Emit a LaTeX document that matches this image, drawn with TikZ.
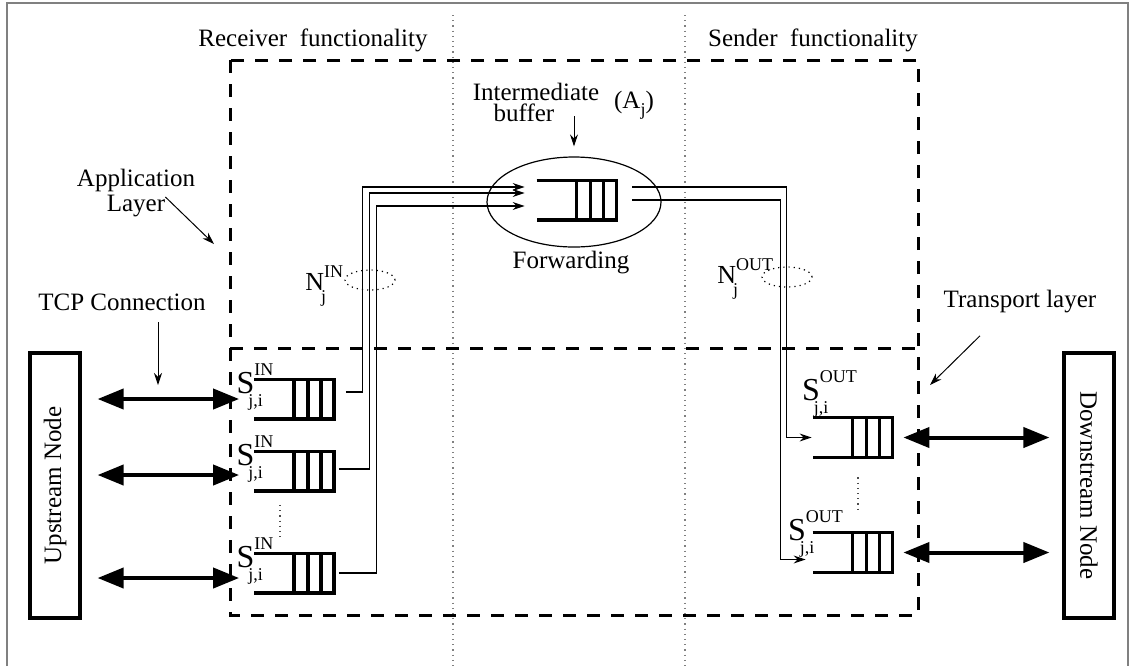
\documentclass[tikz,border=0pt]{standalone}
\usepackage{fontspec}
\setmainfont{Liberation Serif}
\usetikzlibrary{arrows.meta,shapes.geometric}

\newcommand{\fifo}[2]{%
  \node[fifobox] (#1) at (#2) {};
  \draw[fifoline] (#1.north west) -- (#1.north east) -- (#1.south east) -- (#1.south west);
  \foreach \d in {6.5,13,20}
    \draw[fifoline] ([xshift=-\d pt]#1.north east) -- ([xshift=-\d pt]#1.south east);
}
\newcommand{\idx}{\fontsize{9}{9}\selectfont}
\newcommand{\qname}[2]{{\fontsize{16}{16}\selectfont S}\rlap{\kern-3pt\raisebox{-6.5pt}{\idx #2}}\raisebox{9pt}{\idx #1}}
\newcommand{\lname}[1]{{\fontsize{13}{13}\selectfont N}\rlap{\kern-1.5pt\raisebox{-6pt}{\idx j}}\raisebox{6.5pt}{\idx #1}}

\begin{document}
\begin{tikzpicture}[x=0.5pt, y=-0.5pt, >={Stealth[length=6pt,width=4pt]},
    lbl/.style={font=\fontsize{12.5}{12.5}\selectfont, inner sep=0pt},
    fifobox/.style={minimum width=39.5pt, minimum height=19.5pt, inner sep=0pt},
    fifoline/.style={line width=1.6pt},
    area/.style={line width=1.5pt, dash pattern=on 6.5pt off 5.5pt},
    sep/.style={dotted, gray, line width=0.6pt},
    dots/.style={dotted, black!70, line width=0.6pt},
    frame/.style={gray, line width=1pt},
    link/.style={->, line width=0.6pt},
    ptr/.style={->, line width=0.5pt},
    bidir/.style={line width=2pt, {Triangle[length=13pt,width=10pt]}-{Triangle[length=13pt,width=10pt]}},
    peer/.style={draw, line width=1.6pt, minimum width=25pt, minimum height=132.5pt, inner sep=0pt, font=\fontsize{12.5}{12.5}\selectfont},
    lane/.style={draw, dotted, ellipse, line width=0.6pt, minimum width=25pt, minimum height=10pt, inner sep=0pt}]
\useasboundingbox (0,0) rectangle (1135,666);
\draw[frame] (7,666) -- (7,3) -- (1128,3) -- (1128,666);
\draw[sep] (453,15) -- (453,666);
\draw[sep] (685,15) -- (685,666);
\draw[area] (230,60) rectangle (918,615);
\draw[area] (230,348) -- (918,348);

\node[lbl] (recv) at (313,40) {Receiver~ functionality};
\node[lbl] (send) at (813,40) {Sender~ functionality};

\node[lbl] (inter) at (536,92) {Intermediate};
\node[lbl] (buf) at (524,113) {buffer};
\node[lbl] (aj) at (634,105) {(A\raisebox{-3.5pt}{\idx j})};
\node[draw, ellipse, line width=0.6pt, minimum width=87pt, minimum height=45pt, inner sep=0pt] (fwd) at (574,202) {};
\fifo{mid}{576.5,200}
\node[lbl] (fwdlbl) at (571,263) {Forwarding};
\draw[ptr] ([yshift=20pt]fwd.north) -- ([yshift=5pt]fwd.north);

\node[lbl, align=center] (app) at (136,193) {Application\\Layer};
\coordinate (apptip) at (214,244);
\draw[ptr] ([xshift=-15pt,yshift=-2pt]app.east) -- (apptip);

\node[lbl] (tcp) at (122,302) {TCP Connection};
\coordinate (tcptip) at (158,385);
\draw[ptr] ([yshift=-5.75pt]tcp.south -| tcptip) -- (tcptip);

\node[lbl] (trans) at (1020,302) {Transport layer};
\coordinate (transtip) at (930,385);
\draw[ptr] ([xshift=-20pt,yshift=-11pt]trans.south) -- (transtip);

\node[peer] (up) at (55,485.5) {\rotatebox{90}{Upstream Node}};
\node[peer] (down) at (1089,485.5) {\rotatebox{-90}{Downstream Node}};

\fifo{in1}{294,399}
\fifo{in2}{294,471}
\fifo{in3}{294,573}
\fifo{out1}{852.5,437.5}
\fifo{out2}{852.5,552.5}

\node[lbl, anchor=base west] (sin1) at ([xshift=-9pt,yshift=3pt]in1.west) {\qname{IN}{j,i}};
\node[lbl, anchor=base west] (sin2) at ([xshift=-9pt,yshift=3pt]in2.west) {\qname{IN}{j,i}};
\node[lbl, anchor=base west] (sin3) at ([xshift=-9pt,yshift=3pt]in3.west) {\qname{IN}{j,i}};
\node[lbl, anchor=base west] (sout1) at ([xshift=-5.5pt,yshift=18.75pt]out1.west) {\qname{OUT}{j,i}};
\node[lbl, anchor=base west] (sout2) at ([xshift=-12.5pt,yshift=6.25pt]out2.west) {\qname{OUT}{j,i}};

\node[lane] (nin) at (370,280) {};
\node[lbl, anchor=base west] (ninlbl) at ([xshift=-32.5pt,yshift=-5pt]nin.center) {\lname{IN}};
\node[lane] (nout) at (787,277) {};
\node[lbl, anchor=base west] (noutlbl) at ([xshift=-35pt,yshift=-3pt]nout.center) {\lname{OUT}};

\draw[link] ([xshift=6pt,yshift=3.5pt]in1.east) -| ([xshift=-87pt,yshift=6.5pt]mid.west) -- ([xshift=-6pt,yshift=6.5pt]mid.west);
\draw[link] ([xshift=2.5pt,yshift=1pt]in2.east) -| ([xshift=-83.5pt,yshift=3.5pt]mid.west) -- ([xshift=-6pt,yshift=3.5pt]mid.west);
\draw[link] ([xshift=2.5pt]in3.east) -| ([xshift=-80pt,yshift=-3pt]mid.west) -- ([xshift=-6pt,yshift=-3pt]mid.west);
\draw[link] ([xshift=8pt,yshift=6.5pt]mid.east) -| ([xshift=-13pt]out1.west) -- ([xshift=-0.5pt]out1.west);
\draw[link] ([xshift=8pt]mid.east) -| ([xshift=-16pt,yshift=-3.5pt]out2.west) -- ([xshift=-3.5pt,yshift=-3.5pt]out2.west);

\draw[bidir] ([xshift=8pt]up.east |- in1.west) -- ([xshift=-7.5pt]in1.west);
\draw[bidir] ([xshift=8pt,yshift=-2pt]up.east |- in2.west) -- ([xshift=-7.5pt,yshift=-2pt]in2.west);
\draw[bidir] ([xshift=8pt,yshift=-2.5pt]up.east |- in3.west) -- ([xshift=-7.5pt,yshift=-2.5pt]in3.west);
\draw[bidir] ([xshift=5.5pt]out1.east) -- ([xshift=-6.5pt]down.west |- out1.east);
\draw[bidir] ([xshift=5.5pt]out2.east) -- ([xshift=-6.5pt]down.west |- out2.east);

\draw[dots] ([xshift=-7pt,yshift=-7pt]in2.south) -- ([xshift=-7pt,yshift=6.5pt]in3.north);
\draw[dots] ([xshift=2.75pt,yshift=-10pt]out1.south) -- ([xshift=2.75pt,yshift=10pt]out2.north);
\end{tikzpicture}
\end{document}
